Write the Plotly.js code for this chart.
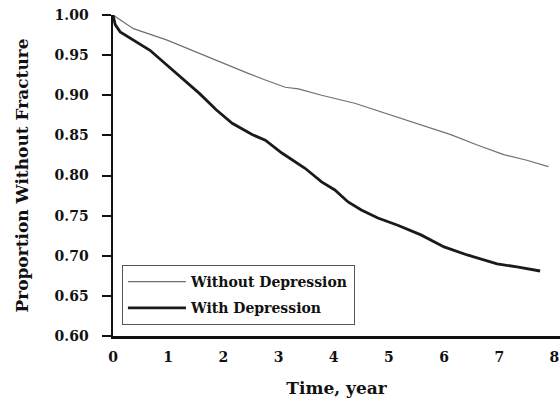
<!DOCTYPE html>
<html>
<head>
<meta charset="utf-8">
<script src="https://cdn.plot.ly/plotly-3.0.1.min.js"></script>
<style>
  html, body { margin: 0; padding: 0; background: #fff; }
  #chart { width: 560px; height: 401px; }
</style>
</head>
<body>
<div id="chart"></div>
<script>
// Kaplan-Meier style survival curves: proportion of participants without fracture over time
const timeWithout = [0, 0.37, 0.97, 1.57, 2.05, 2.46, 2.76, 3.12, 3.36, 3.78, 4.38, 4.74, 5.16, 5.70, 6.12, 6.60, 6.90, 7.08, 7.50, 7.89];
const survWithout = [1.00, 0.983, 0.969, 0.952, 0.938, 0.927, 0.919, 0.910, 0.908, 0.900, 0.890, 0.882, 0.873, 0.861, 0.851, 0.838, 0.830, 0.826, 0.819, 0.811];

const timeWith = [0, 0.04, 0.13, 0.37, 0.67, 0.97, 1.26, 1.57, 1.87, 2.16, 2.52, 2.76, 3.06, 3.36, 3.48, 3.78, 4.02, 4.26, 4.50, 4.80, 5.16, 5.58, 6.00, 6.42, 6.96, 7.32, 7.74];
const survWith = [1.00, 0.988, 0.979, 0.969, 0.956, 0.938, 0.921, 0.902, 0.882, 0.865, 0.851, 0.844, 0.828, 0.815, 0.809, 0.792, 0.782, 0.767, 0.757, 0.747, 0.738, 0.726, 0.711, 0.701, 0.690, 0.686, 0.681];

const seriesNames = ['Without Depression', 'With Depression'];
const xTicks = [0, 1, 2, 3, 4, 5, 6, 7, 8];
const yTicks = [0.60, 0.65, 0.70, 0.75, 0.80, 0.85, 0.90, 0.95, 1.00];

const serif = 'DejaVu Serif, Liberation Serif, serif';

const traces = [
  {
    x: timeWithout, y: survWithout, name: seriesNames[0], legendgroup: 'a',
    mode: 'lines', line: { color: '#707070', width: 1.2 }
  },
  {
    x: timeWith, y: survWith, name: seriesNames[1], legendgroup: 'b',
    mode: 'lines', line: { color: '#1a1a1a', width: 2.8 }
  }
];

const layout = {
  width: 560, height: 401,
  margin: { l: 113, r: 0, t: 15, b: 65 },
  paper_bgcolor: '#fff', plot_bgcolor: '#fff',
  font: { family: serif, color: '#111', size: 14 },
  showlegend: true,
  legend: {
    x: 0.02, y: 0.221, xanchor: 'left', yanchor: 'top',
    bgcolor: '#fff', bordercolor: '#555', borderwidth: 1,
    traceorder: 'grouped', tracegroupgap: 5, itemwidth: 58,
    font: { family: serif, size: 14, color: '#111', weight: 'bold' }
  },
  xaxis: {
    range: [0, 8.1], showgrid: false, zeroline: false,
    showline: true, linecolor: '#111', linewidth: 2.5,
    tickmode: 'array', tickvals: xTicks, ticktext: xTicks.map(String),
    ticks: '', ticklabelstandoff: 7, ticklabeloverflow: 'allow',
    tickfont: { family: serif, size: 14, weight: 'bold', color: '#111' },
    title: { text: 'Time, year', standoff: 18, font: { family: serif, size: 17, weight: 'bold', color: '#111' } }
  },
  yaxis: {
    range: [0.6, 1.0], showgrid: false, zeroline: false,
    showline: true, linecolor: '#111', linewidth: 2.5,
    tickmode: 'array', tickvals: yTicks, ticktext: yTicks.map(v => v.toFixed(2)),
    ticks: 'outside', ticklen: 9, tickwidth: 2, tickcolor: '#111',
    ticklabelstandoff: 10,
    tickfont: { family: serif, size: 14, weight: 'bold', color: '#111' },
    title: { text: 'Proportion Without Fracture', standoff: 22, font: { family: serif, size: 17, weight: 'bold', color: '#111' } }
  }
};

Plotly.newPlot('chart', traces, layout, { displayModeBar: false, staticPlot: true });
</script>
</body>
</html>
